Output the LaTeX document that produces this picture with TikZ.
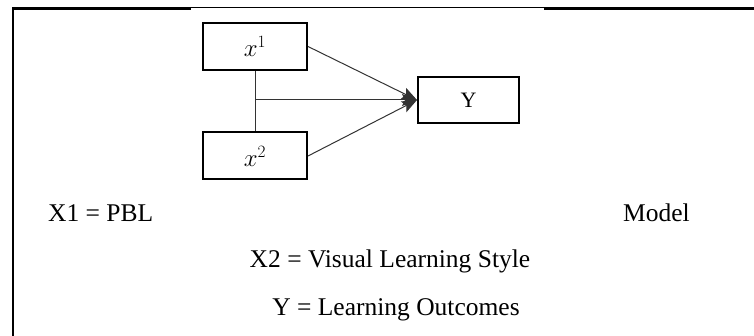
\documentclass[tikz,border=0pt]{standalone}
\usepackage{fontspec}
\setmainfont{Liberation Serif}
\usetikzlibrary{arrows.meta}
\begin{document}
\begin{tikzpicture}[x=1pt,y=-1pt,
  varbox/.style={draw=black,line width=2pt,minimum width=104pt,minimum height=47pt,inner sep=0pt},
  link/.style={draw=black!80,line width=1pt},
  arr/.style={link,-{Stealth[length=15pt,width=12pt,inset=3pt]}},
  legend/.style={font=\fontsize{25.5}{30}\selectfont,inner sep=0pt}]
\useasboundingbox (0,0) rectangle (754,336);
% frame
\draw[line width=2.5pt] (12,8.5) -- (191,8.5);
\draw[line width=1.2pt] (191,7.5) -- (544,7.5);
\draw[line width=2.5pt] (544,8.5) -- (754,8.5);
\draw[line width=2pt] (13,7.5) -- (13,336);
% boxes
\node[varbox] (x1) at (255,46.5) {\fontsize{27}{30}\selectfont$x^{1}$};
\node[varbox] (x2) at (255,156) {\fontsize{27}{30}\selectfont$x^{2}$};
\node[varbox,minimum width=101pt,minimum height=46pt] (y) at (468.5,100) {\fontsize{22}{26}\selectfont Y};
% connectors
\draw[link] (x1.south) -- (x2.north);
\coordinate (j) at (255,100);
\draw[arr] (j) -- (y.west);
\draw[arr] (x1.east) -- (y.west);
\draw[arr] (x2.east) -- (y.west);
% legend
\node[legend,anchor=base west] (l1) at (48,222) {X1 = PBL};
\node[legend,anchor=base west] (l1b) at (623,222) {Model};
\node[legend,anchor=base] (l2) at (390,268) {X2 = Visual Learning Style};
\node[legend,anchor=base] (l3) at (396,315) {Y = Learning Outcomes};
\end{tikzpicture}
\end{document}
